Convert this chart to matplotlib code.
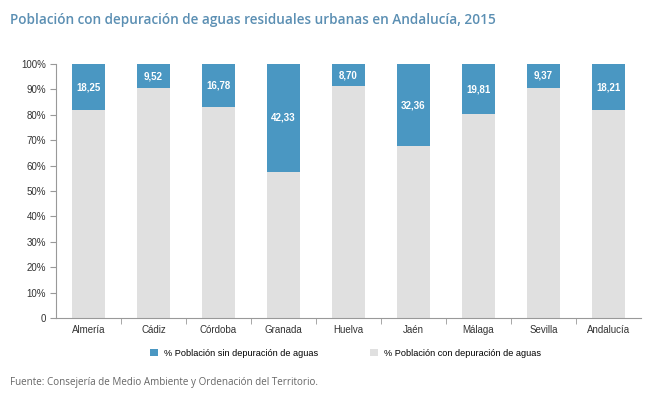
import matplotlib.pyplot as plt
import numpy as np

provincias = ['Almería', 'Cádiz', 'Córdoba', 'Granada', 'Huelva', 'Jaén', 'Málaga', 'Sevilla', 'Andalucía']
sin_depuracion = [18.25, 9.52, 16.78, 42.33, 8.70, 32.36, 19.81, 9.37, 18.21]
con_depuracion = [100 - v for v in sin_depuracion]

azul = '#4a97c2'
gris = '#e0e0e0'

fig = plt.figure(figsize=(6.67, 3.94), dpi=100)
ax = fig.add_axes([56 / 667, 1 - 318 / 394, 585 / 667, 254 / 394])

x = np.arange(len(provincias))
ax.bar(x, con_depuracion, width=0.5, color=gris, label='% Población con depuración de aguas')
ax.bar(x, sin_depuracion, width=0.5, bottom=con_depuracion, color=azul,
       label='% Población sin depuración de aguas')

for xi, v, b in zip(x, sin_depuracion, con_depuracion):
    ax.text(xi, b + v / 2, f'{v:.2f}'.replace('.', ','), ha='center', va='center',
            color='white', fontsize=7, fontweight='bold', family='Liberation Sans')

ax.set_xlim(-0.5, len(provincias) - 0.5)
ax.set_ylim(0, 100)
ax.set_yticks(range(0, 101, 10))
ax.set_yticklabels(['0'] + [f'{v}%' for v in range(10, 101, 10)])
ax.set_xticks(x)
ax.set_xticklabels(provincias)
ax.set_xticks(np.arange(0.5, len(provincias) - 1, 1), minor=True)
ax.tick_params(axis='x', which='major', length=0, pad=5)
ax.tick_params(axis='x', which='minor', length=4, color='#999999')
ax.tick_params(axis='y', length=4, color='#999999', pad=3)
for lab in ax.get_xticklabels() + ax.get_yticklabels():
    lab.set_fontsize(7)
    lab.set_family('Liberation Sans')
    lab.set_color('#333333')
for s in ['top', 'right']:
    ax.spines[s].set_visible(False)
for s in ['left', 'bottom']:
    ax.spines[s].set_color('#999999')
    ax.spines[s].set_linewidth(0.8)

# leyenda
h, l = ax.get_legend_handles_labels()
fig.legend(h[::-1], l[::-1], loc='center', bbox_to_anchor=(345.5 / 667, 1 - 353 / 394), ncol=2,
           frameon=False, handlelength=0.9, handleheight=0.9, handletextpad=0.7,
           columnspacing=5.6, prop={'family': 'Liberation Sans', 'size': 6.6})

fig.text(10 / 667, 1 - 20 / 394, 'Población con depuración de aguas residuales urbanas en Andalucía, 2015',
         fontsize=9.8, color='#5b8fb3', fontweight='semibold', family='Open Sans', va='center')
fig.text(10 / 667, 1 - 382 / 394, 'Fuente: Consejería de Medio Ambiente y Ordenación del Territorio.',
         fontsize=7.1, color='#666666', family='Open Sans', va='center')

fig.savefig('out.png', dpi=100)
